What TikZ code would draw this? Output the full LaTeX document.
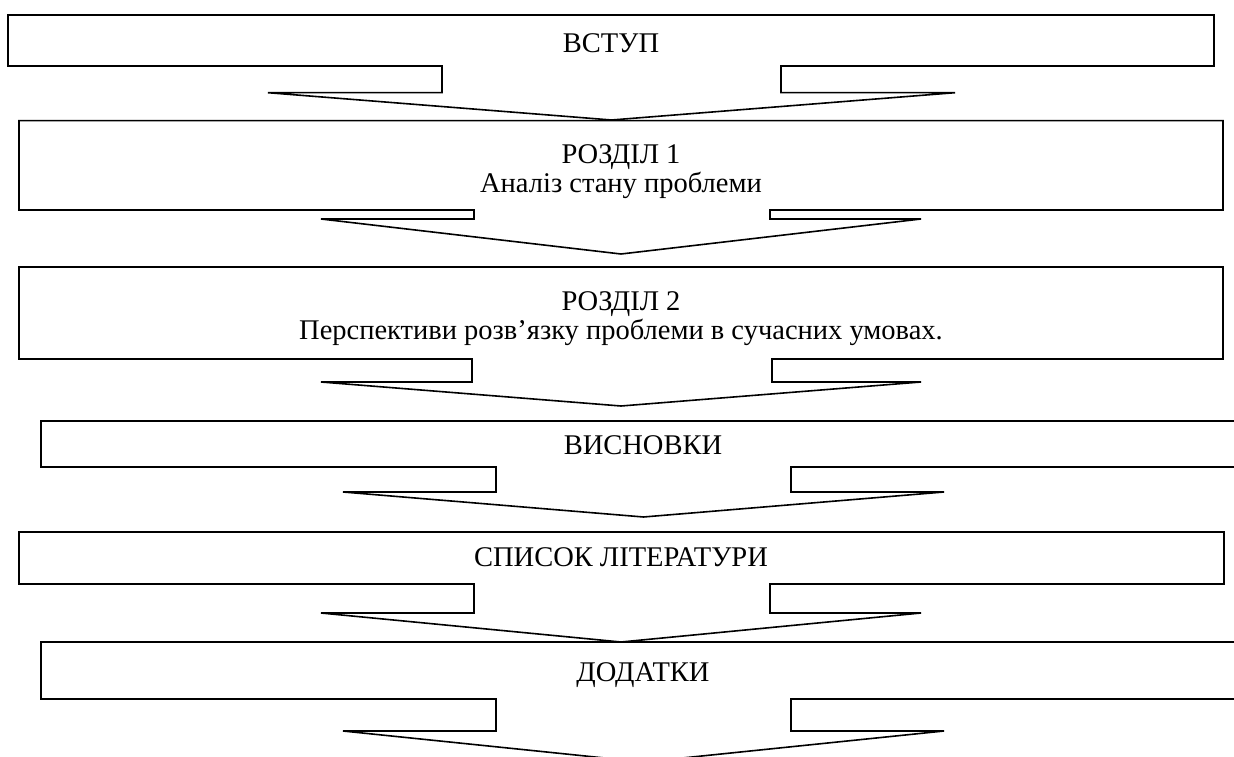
\documentclass[tikz,border=0pt]{standalone}
\usepackage{fontspec}
\setmainfont{Liberation Serif}
\begin{document}
\begin{tikzpicture}[x=1pt,y=-1pt,
  callout/.style={draw=black, line width=1.6pt, line join=miter},
  lbl/.style={font=\fontsize{28.5}{32}\selectfont, anchor=base, inner sep=0pt}]
\useasboundingbox (0,0) rectangle (1234,757);
\clip (0,0) rectangle (1234,757);
% 1 ВСТУП
\draw[callout] (8,15) -- (1214,15) -- (1214,66) -- (781,66) -- (781,92.7) -- (955,92.7)
  -- (611.5,120) coordinate (tip1) -- (268,92.7) -- (442,92.7) -- (442,66) -- (8,66) -- cycle;
\node[lbl] (t1) at (611,53) {ВСТУП};
% 2 РОЗДІЛ 1
\draw[callout] (19,120.7) -- (1223,120.7) -- (1223,210) -- (770,210) -- (770,219) -- (921,219)
  -- (621,254) coordinate (tip2) -- (321,219) -- (474,219) -- (474,210) -- (19,210) -- cycle;
\node[lbl] (t2a) at (621,164) {РОЗДІЛ 1};
\node[lbl] (t2b) at (621,192) {Аналіз стану проблеми};
% 3 РОЗДІЛ 2
\draw[callout] (19,267) -- (1223,267) -- (1223,359) -- (772,359) -- (772,382) -- (921,382)
  -- (621,406) coordinate (tip3) -- (321,382) -- (472,382) -- (472,359) -- (19,359) -- cycle;
\node[lbl] (t3a) at (621,310) {РОЗДІЛ 2};
\node[lbl] (t3b) at (621,339) {Перспективи розв’язку проблеми в сучасних умовах.};
% 4 ВИСНОВКИ
\draw[callout] (41,421) -- (1246,421) -- (1246,467) -- (791,467) -- (791,492) -- (944,492)
  -- (643.5,517) coordinate (tip4) -- (343,492) -- (496,492) -- (496,467) -- (41,467) -- cycle;
\node[lbl] (t4) at (643,454) {ВИСНОВКИ};
% 5 СПИСОК ЛІТЕРАТУРИ
\draw[callout] (19,532) -- (1224,532) -- (1224,584) -- (770,584) -- (770,613) -- (921,613)
  -- (621,642) coordinate (tip5) -- (321,613) -- (474,613) -- (474,584) -- (19,584) -- cycle;
\node[lbl] (t5) at (621,566) {СПИСОК ЛІТЕРАТУРИ};
% 6 ДОДАТКИ
\draw[callout] (41,642) -- (1246,642) -- (1246,699) -- (791,699) -- (791,731) -- (944,731)
  -- (643.5,762) coordinate (tip6) -- (343,731) -- (496,731) -- (496,699) -- (41,699) -- cycle;
\node[lbl] (t6) at (643,681) {ДОДАТКИ};
\end{tikzpicture}
\end{document}
